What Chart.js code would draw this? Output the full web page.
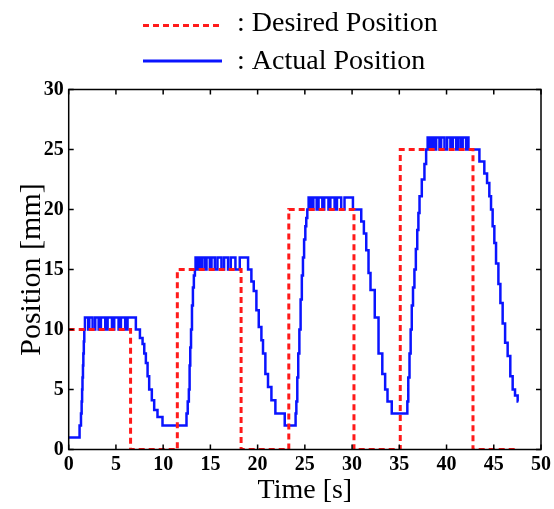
<!DOCTYPE html>
<html>
<head>
<meta charset="utf-8">
<script src="https://cdn.jsdelivr.net/npm/chart.js@4"></script>
<style>
  body { margin: 0; background: #fff; }
  canvas { display: block; }
</style>
</head>
<body>
<canvas id="posChart" width="554" height="509"></canvas>
<script>
// Desired position (step changes: time [s], position [mm])
const desiredTime = [0, 6.55, 11.5, 18.25, 23.3, 30.2, 35.1, 42.8, 47.5];
const desiredPos  = [10, 0, 15, 0, 20, 0, 25, 0, 0];

// Actual position (sampled, step changes)
const actualTime = [
  0, 1.15, 1.3, 1.37, 1.42, 1.46, 1.51, 1.55, 1.6, 1.65, 1.72,
  2.07, 2.18, 2.53, 2.81, 3.17, 3.41, 3.87, 4.12, 4.58, 4.82, 5.28, 5.53, 5.98, 6.23, 7.11,
  7.54, 7.82, 8.0, 8.17, 8.35, 8.52, 8.8, 9.05, 9.4, 9.93,
  12.47, 12.6, 12.72, 12.8, 12.87, 12.95, 13.05, 13.15, 13.25, 13.36, 13.43,
  13.64, 13.78, 13.99, 14.12, 14.41, 14.59, 14.94, 15.12, 15.47, 15.75, 16.17, 16.45, 16.87, 17.16, 17.65, 18.11, 18.99,
  19.34, 19.59, 19.87, 20.12, 20.4, 20.57, 20.82, 21.1, 21.46, 21.88, 22.87,
  24.02, 24.1, 24.2, 24.3, 24.42, 24.55, 24.68, 24.8, 24.92, 25.05, 25.15, 25.26, 25.4,
  25.55, 25.65, 25.8, 25.9, 26.25, 26.45, 26.85, 27.05, 27.5, 27.7, 28.15, 28.4, 28.85, 29.2, 30.09,
  30.97, 31.25, 31.5, 31.74, 31.95, 32.4, 32.8, 33.2, 33.5, 33.75, 34.2,
  35.85, 35.95, 36.08, 36.2, 36.32, 36.45, 36.6, 36.75, 36.9, 37.02, 37.14, 37.38, 37.66, 37.84, 38.0,
  38.16, 38.22, 38.37, 38.44, 38.65, 38.9, 39.25, 39.43, 39.78, 40.06, 40.41, 40.66, 41.02, 41.26, 41.54, 41.71, 42.07, 42.18, 42.32,
  43.48, 44.0, 44.29, 44.53, 44.71, 44.88, 45.06, 45.24, 45.49, 45.7, 45.94, 46.2, 46.47, 46.75, 47.0, 47.25, 47.53, 47.6
];
const actualPos = [
  1, 2, 3, 4, 5, 6, 7, 8, 9, 10, 11,
  10, 11, 10, 11, 10, 11, 10, 11, 10, 11, 10, 11, 10, 11, 10,
  9.3, 8.8, 8.0, 7.2, 6.1, 5.0, 4.1, 3.3, 2.7, 2.0,
  3, 4, 5, 7, 8.5, 10, 12, 13.5, 14.5, 15, 16,
  15, 16, 15, 16, 15, 16, 15, 16, 15, 16, 15, 16, 15, 16, 15, 16, 15,
  14.0, 13.2, 11.6, 10.2, 9.1, 8.0, 6.3, 5.2, 4.1, 3.0, 2.0,
  3, 4, 6, 8, 10, 12.5, 14.5, 16, 17.5, 18.6, 19.3, 20, 21,
  20, 21, 20, 21, 20, 21, 20, 21, 20, 21, 20, 21, 20, 21, 20,
  19.0, 18.0, 16.6, 14.7, 13.3, 11.0, 8.0, 6.3, 5.0, 4.0, 3.0,
  4, 6, 8, 10, 12, 13.5, 15, 16.7, 18.3, 19.7, 21.1, 22.5, 23.8, 25, 26,
  25, 26, 25, 26, 25, 26, 25, 26, 25, 26, 25, 26, 25, 26, 25, 26, 25, 26, 25,
  24, 23, 22.2, 21.1, 20, 18.6, 17.2, 15.5, 13.8, 12.2, 10.5, 8.9, 7.8, 6.1, 5.0, 4.5, 4.0, 4.0
];

const serif = "'Liberation Serif', 'Times New Roman', serif";

// inward ticks on all four sides + box frame
const frameTicks = {
  id: 'frameTicks',
  afterDraw(chart) {
    const { ctx, chartArea: a, scales } = chart;
    ctx.save();
    ctx.strokeStyle = '#000';
    ctx.lineWidth = 1.5;
    ctx.beginPath();
    scales.x.ticks.forEach(t => {
      const px = scales.x.getPixelForValue(t.value);
      ctx.moveTo(px, a.bottom); ctx.lineTo(px, a.bottom - 5);
      ctx.moveTo(px, a.top); ctx.lineTo(px, a.top + 5);
    });
    scales.y.ticks.forEach(t => {
      const py = scales.y.getPixelForValue(t.value);
      ctx.moveTo(a.left, py); ctx.lineTo(a.left + 5, py);
      ctx.moveTo(a.right, py); ctx.lineTo(a.right - 5, py);
    });
    ctx.stroke();
    ctx.strokeRect(a.left, a.top, a.right - a.left, a.bottom - a.top);
    ctx.restore();
  }
};

// legend drawn above the plot: line sample then ": label"
const topLegend = {
  id: 'topLegend',
  afterDraw(chart) {
    const ctx = chart.ctx;
    const rows = [{ ds: chart.data.datasets[0], y: 25.5, base: 31 },
                  { ds: chart.data.datasets[1], y: 61, base: 69 }];
    ctx.save();
    rows.forEach(r => {
      ctx.strokeStyle = r.ds.borderColor;
      ctx.lineWidth = 3;
      ctx.setLineDash(r.ds.borderDash || []);
      ctx.beginPath();
      ctx.moveTo(143, r.y);
      ctx.lineTo(222, r.y);
      ctx.stroke();
      ctx.setLineDash([]);
      ctx.fillStyle = '#000';
      ctx.font = '28px ' + serif;
      ctx.textBaseline = 'alphabetic';
      ctx.fillText(': ' + r.ds.label, 237, r.base);
    });
    ctx.restore();
  }
};

const ctx = document.getElementById('posChart').getContext('2d');

const chart = new Chart(ctx, {
  type: 'line',
  data: {
    datasets: [
      {
        label: 'Desired Position',
        data: desiredTime.map((t, i) => ({ x: t, y: desiredPos[i] })),
        borderColor: '#ff1a1a',
        borderDash: [6, 4],
        borderWidth: 3,
        stepped: true,
        pointRadius: 0,
        fill: false,
        order: 0
      },
      {
        label: 'Actual Position',
        data: actualTime.map((t, i) => ({ x: t, y: actualPos[i] })),
        borderColor: '#0a14ff',
        borderWidth: 2.5,
        stepped: true,
        pointRadius: 0,
        fill: false,
        order: 1
      }
    ]
  },
  options: {
    responsive: false,
    animation: false,
    devicePixelRatio: 1,
    layout: { padding: { top: 89.5, right: 12.3, left: 0, bottom: 0 } },
    plugins: {
      legend: { display: false },
      tooltip: { enabled: false }
    },
    scales: {
      x: {
        type: 'linear',
        min: 0,
        max: 50,
        grid: { display: false, drawTicks: false },
        border: { display: false },
        ticks: {
          stepSize: 5,
          maxRotation: 0,
          autoSkip: false,
          padding: 3,
          color: '#000',
          font: { family: serif, size: 20, weight: 'bold' }
        },
        title: {
          display: true,
          text: 'Time [s]',
          color: '#000',
          font: { family: serif, size: 28 },
          padding: { top: 0, bottom: 2 }
        },
        afterFit(s) { s.height = 59.5; }
      },
      y: {
        min: 0,
        max: 30,
        grid: { display: false, drawTicks: false },
        border: { display: false },
        ticks: {
          stepSize: 5,
          padding: 5,
          color: '#000',
          font: { family: serif, size: 20, weight: 'bold' }
        },
        title: {
          display: true,
          text: 'Position [mm]',
          color: '#000',
          font: { family: serif, size: 30 },
          padding: { top: 14, bottom: 0 }
        },
        afterFit(s) { s.width = 68.7; }
      }
    }
  },
  plugins: [frameTicks, topLegend]
});
</script>
</body>
</html>
